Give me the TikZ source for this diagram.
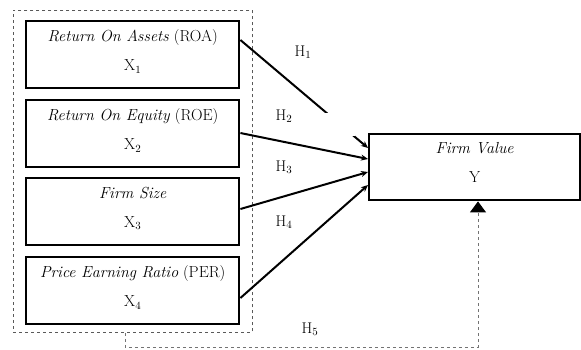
\documentclass[tikz,border=0pt]{standalone}
\usetikzlibrary{arrows.meta,calc}
\newcommand{\lowpad}{\rule[-9pt]{0pt}{9pt}}
\begin{document}
\begin{tikzpicture}[x=1pt,y=-1pt,
  txt/.style={font=\fontsize{15.5}{17}\selectfont, inner sep=0pt},
  varbox/.style={draw=black, line width=2.4pt, minimum width=213pt, minimum height=67pt,
    anchor=north west, inner sep=0pt, align=center, font=\fontsize{16}{18}\selectfont},
  group/.style={draw=black!65, dashed, line width=0.8pt, anchor=north west, inner sep=0pt,
    minimum width=239pt, minimum height=322pt},
  link/.style={line width=2pt, -{Stealth[length=7pt,width=6pt]}},
  feedback/.style={draw=black!55, dashed, line width=1pt, -{Triangle[length=11pt,width=16pt,black]}}]
\useasboundingbox (0,0) rectangle (581,349);

% independent variables, grouped in a dashed frame
\node[group] (grp) at (13,10) {};
\node[varbox] (x1) at (25,20)  {\textit{Return On Assets} (ROA)\\[11pt] X$_1$\lowpad};
\node[varbox] (x2) at (25,99)  {\textit{Return On Equity} (ROE)\\[11pt] X$_2$\lowpad};
\node[varbox] (x3) at (25,177) {\textit{Firm Size}\\[11pt] X$_3$\lowpad};
\node[varbox] (x4) at (25,256) {\textit{Price Earning Ratio} (PER)\\[11pt] X$_4$\lowpad};

% dependent variable
\node[varbox, minimum width=211pt, minimum height=66pt] (fv) at (368,133) {\textit{Firm Value}\\[11pt] Y\lowpad};

% direct effects
\draw[link] ([yshift=-20pt]x1.north east) -- ([yshift=-15pt]fv.north west);
\draw[link] ([yshift=-34pt]x2.north east) -- ([yshift=-26pt]fv.north west);
\draw[link] ([yshift=-32pt]x3.north east) -- ([yshift=-39pt]fv.north west);
\draw[link] ([yshift=-42pt]x4.north east) -- ([yshift=-52pt]fv.north west);

% text box of the H2 label
\node[fill=white, inner sep=0pt, minimum width=87pt, minimum height=23pt, anchor=north west] (h2box) at (268,113) {};

% hypothesis labels
\node[txt] (h1) at (303,52)  {H$_1$};
\node[txt] (h2) at (284,116) {H$_2$};
\node[txt] (h3) at (284,167) {H$_3$};
\node[txt] (h4) at (284,222) {H$_4$};
\node[txt] (h5) at (310,329) {H$_5$};

% simultaneous effect
\coordinate (c1) at (125,347);
\coordinate (c2) at (478,347);
\draw[feedback] (c1 |- grp.south) -- (c1) -- (c2) -- (c2 |- fv.south);
\end{tikzpicture}
\end{document}
